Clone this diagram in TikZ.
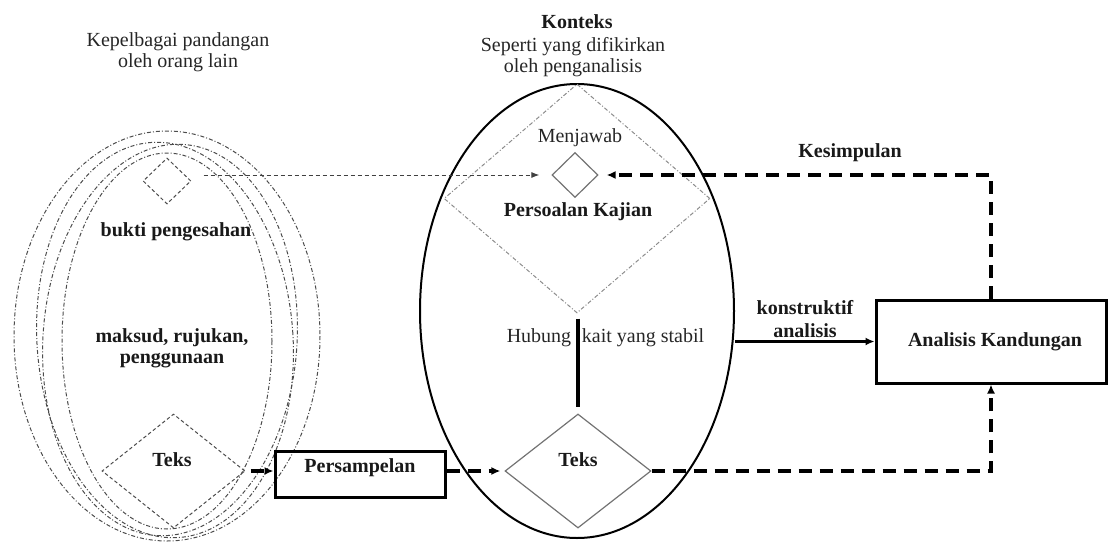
\documentclass[tikz,border=0pt]{standalone}
\usepackage{fontspec}
\setmainfont{Liberation Serif}
\usetikzlibrary{shapes.geometric,arrows.meta,calc}
\begin{document}
\begin{tikzpicture}[x=1pt,y=-1pt,
  txt/.style={font=\fontsize{20}{21}\selectfont, inner sep=0pt, align=center, text=black!85},
  btxt/.style={font=\fontsize{20}{21}\selectfont\bfseries, inner sep=0pt, align=center, text=black!90},
  ctxell/.style={draw, ellipse, line width=2pt, minimum width=314pt, minimum height=454pt, inner sep=0pt},
  dia/.style={diamond, inner sep=0pt},
  graydia/.style={dia, draw=black!55, line width=1.2pt},
  dashdia/.style={dia, draw=black!70, line width=1pt, dash pattern=on 3.5pt off 2.5pt},
  ddotdia/.style={dia, draw=black!45, line width=1pt, dash pattern=on 4pt off 2pt on 1pt off 2pt},
  boxnode/.style={draw, line width=3pt, inner sep=0pt},
  ddell/.style={draw=black!70, line width=1pt, dash pattern=on 4pt off 2pt on 1pt off 2pt},
  thickdash/.style={line width=3.2pt, dash pattern=on 13pt off 8pt},
  tip/.style={-{Latex[length=9pt,width=8pt]}},
  thintip/.style={-{Latex[length=8pt,width=6pt]}}
]
\useasboundingbox (0,0) rectangle (1109,544);

% left group of dash-dotted ellipses
\draw[ddell] (167,336) ellipse [x radius=153, y radius=205];
\draw[ddell] (165,340) ellipse [x radius=128, y radius=198, rotate=4];
\draw[ddell] (170,340) ellipse [x radius=127, y radius=196, rotate=-4];
\draw[ddell] (167,341) ellipse [x radius=105, y radius=188];

% left diamonds
\node[dashdia, minimum width=48pt, minimum height=46pt] (sd) at (167,181) {};
\node[dashdia, minimum width=143pt, minimum height=114pt] (tk1) at (173.5,471) {};

% context ellipse and inner shapes
\node[ctxell] (ctx) at (577,311) {};
\node[ddotdia, minimum width=266pt, minimum height=229pt] (pk) at (577,198.5) {};
\node[graydia, minimum width=46pt, minimum height=45pt] (mj) at (575,175) {};
\node[graydia, minimum width=146pt, minimum height=114pt] (tk2) at (578,471) {};

% boxes
\node[boxnode, minimum width=170pt, minimum height=46pt] (ps) at (360,474) {};
\node[boxnode, minimum width=230pt, minimum height=83pt] (ak) at (991,341.5) {};

% connectors
\draw[thintip, draw=black!75, line width=1pt, dash pattern=on 4pt off 3pt, shorten >=12pt] ($(sd.east |- mj.west)+(12,0)$) -- (mj.west);
\draw[thickdash, tip, shorten >=8pt] (ak.north) -- (ak.north |- mj.east) -- (mj.east);
\draw[thickdash, tip] (tk2.east) -- (ak.south |- tk2.east) -- (ak.south);
\draw[thickdash, tip, shorten >=4pt] (ps.east |- tk2.west) -- (tk2.west);
\draw[thickdash, tip, shorten <=5pt] (tk1.east) -- (ps.west |- tk1.east);
\draw[line width=2.6pt, tip] (ctx.east |- ak.west) -- (ak.west);
\draw[line width=3.2pt, shorten <=5pt, shorten >=6pt] (tk2.north |- pk.south) -- (tk2.north);

% texts
\node[txt] (kep) at (178,52.5) {Kepelbagai pandangan\\oleh orang lain};
\node[btxt] (kon) at (577,22) {Konteks};
\node[txt] (sep) at (573,57) {Seperti yang difikirkan\\oleh penganalisis};
\node[txt] (menj) at (580,138) {Menjawab};
\node[btxt] (pkt) at (578,212) {Persoalan Kajian};
\node[txt] (hub) at (539,338) {Hubung};
\node[txt] (kait) at (643,338) {kait yang stabil};
\node[btxt] (teks2) at (578,460) {Teks};
\node[btxt] (teks1) at (172,460) {Teks};
\node[btxt] (bukti) at (176,232) {bukti pengesahan};
\node[btxt] (maks) at (172,348.5) {maksud, rujukan,\\penggunaan};
\node[btxt] (pst) at (360,468) {Persampelan};
\node[btxt, font=\fontsize{20}{23}\selectfont\bfseries] (kons) at (805,319) {konstruktif\\analisis};
\node[btxt] (kes) at (850,153) {Kesimpulan};
\node[btxt] (akt) at (995,342) {Analisis Kandungan};
\end{tikzpicture}
\end{document}
